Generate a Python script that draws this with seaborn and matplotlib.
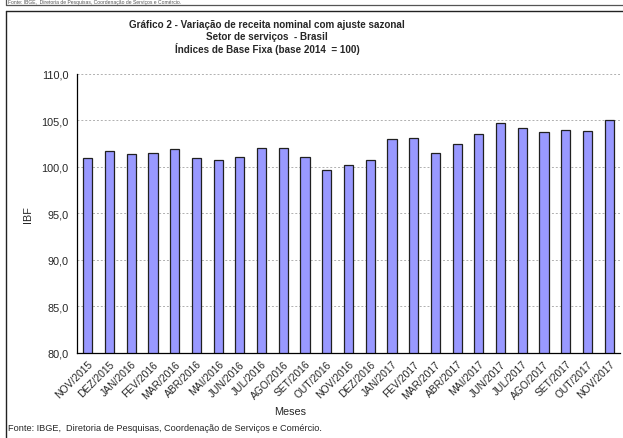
import numpy as np
import pandas as pd
import matplotlib
matplotlib.use("Agg")
import matplotlib.pyplot as plt
from matplotlib.lines import Line2D
from matplotlib.ticker import FuncFormatter, FixedLocator
import seaborn as sns

# ==========================================
# DATA
# ==========================================

meses = [
    "NOV/2015", "DEZ/2015", "JAN/2016", "FEV/2016", "MAR/2016", "ABR/2016",
    "MAI/2016", "JUN/2016", "JUL/2016", "AGO/2016", "SET/2016", "OUT/2016",
    "NOV/2016", "DEZ/2016", "JAN/2017", "FEV/2017", "MAR/2017", "ABR/2017",
    "MAI/2017", "JUN/2017", "JUL/2017", "AGO/2017", "SET/2017", "OUT/2017",
    "NOV/2017",
]

ibf = [
    101.0, 101.7, 101.4, 101.5, 101.9, 101.0,
    100.8, 101.1, 102.0, 102.0, 101.1, 99.7,
    100.2, 100.7, 103.0, 103.1, 101.5, 102.5,
    103.5, 104.7, 104.2, 103.8, 104.0, 103.9,
    105.0,
]

y_ticks = [80, 85, 90, 95, 100, 105, 110]

titulo = [
    "Gráfico 2 - Variação de receita nominal com ajuste sazonal",
    "Setor de serviços  - Brasil",
    "Índices de Base Fixa (base 2014  = 100)",
]
fonte = "Fonte: IBGE,  Diretoria de Pesquisas, Coordenação de Serviços e Comércio."

df = pd.DataFrame({"Meses": meses, "IBF": ibf})

# ==========================================
# PLOT
# ==========================================

sns.set_style("white")
plt.rcParams["font.family"] = ["Liberation Sans", "DejaVu Sans"]

W, H = 623, 439
fig = plt.figure(figsize=(W / 100, H / 100), dpi=100)
ax = fig.add_axes([77 / W, 1 - 354 / H, (620 - 77) / W, (354 - 75) / H])

sns.barplot(
    data=df,
    x="Meses",
    y="IBF",
    color="#9999FF",
    saturation=1,
    width=0.42,
    edgecolor="#202020",
    linewidth=0.9,
    ax=ax,
)

ax.set_xlim(-0.5, len(meses) - 0.5)
ax.set_ylim(80, 110)
ax.set_yticks(y_ticks)
ax.yaxis.set_major_formatter(FuncFormatter(lambda v, p: f"{v:.1f}".replace(".", ",")))

# dotted grid lines
for v in y_ticks[1:]:
    ax.axhline(v, color="#b0b0b0", linestyle=(0, (2, 2)), linewidth=0.7, zorder=0)

# tick marks between categories
ax.xaxis.set_minor_locator(FixedLocator(np.arange(-0.5, len(meses), 1.0)))
ax.tick_params(axis="x", which="minor", length=4, width=0.8, color="black", direction="out")
ax.tick_params(axis="x", which="major", length=0, pad=4, labelsize=7.4)
ax.tick_params(axis="y", which="major", length=4, width=0.8, color="black",
               direction="out", labelsize=7.8, pad=2)
plt.setp(ax.get_xticklabels(), rotation=45, ha="right", rotation_mode="anchor")

for side in ["top", "right"]:
    ax.spines[side].set_visible(False)
for side in ["left", "bottom"]:
    ax.spines[side].set_color("black")
    ax.spines[side].set_linewidth(0.9)

ax.set_xlabel("")
ax.set_ylabel("IBF", fontsize=7.8, labelpad=6)

# title, one line at a time
for i, linha in enumerate(titulo):
    fig.text(267 / W, 1 - (25 + 12 * i) / H, linha, ha="center", va="center",
             fontsize=7.1, fontweight="bold")

fig.text(290 / W, 1 - 412 / H, "Meses", ha="center", va="center", fontsize=7.8)
fig.text(8 / W, 1 - 429 / H, fonte, ha="left", va="center", fontsize=6.6)

# source line of the previous chart at the very top
fig.text(8 / W, 1 - 2.6 / H, fonte, ha="left", va="center", fontsize=3.6, color="#555555")

# frame lines
fig.add_artist(Line2D([6 / W, 6 / W], [1, 1 - 5.5 / H], color="#555555", lw=0.9))
fig.add_artist(Line2D([6 / W, 1], [1 - 5.5 / H, 1 - 5.5 / H], color="#555555", lw=0.9))
fig.add_artist(Line2D([6 / W, 1], [1 - 11.5 / H, 1 - 11.5 / H], color="#222222", lw=1.0))
fig.add_artist(Line2D([6 / W, 6 / W], [1 - 11.5 / H, 0], color="#222222", lw=1.0))

plt.savefig("out.png", dpi=100)
